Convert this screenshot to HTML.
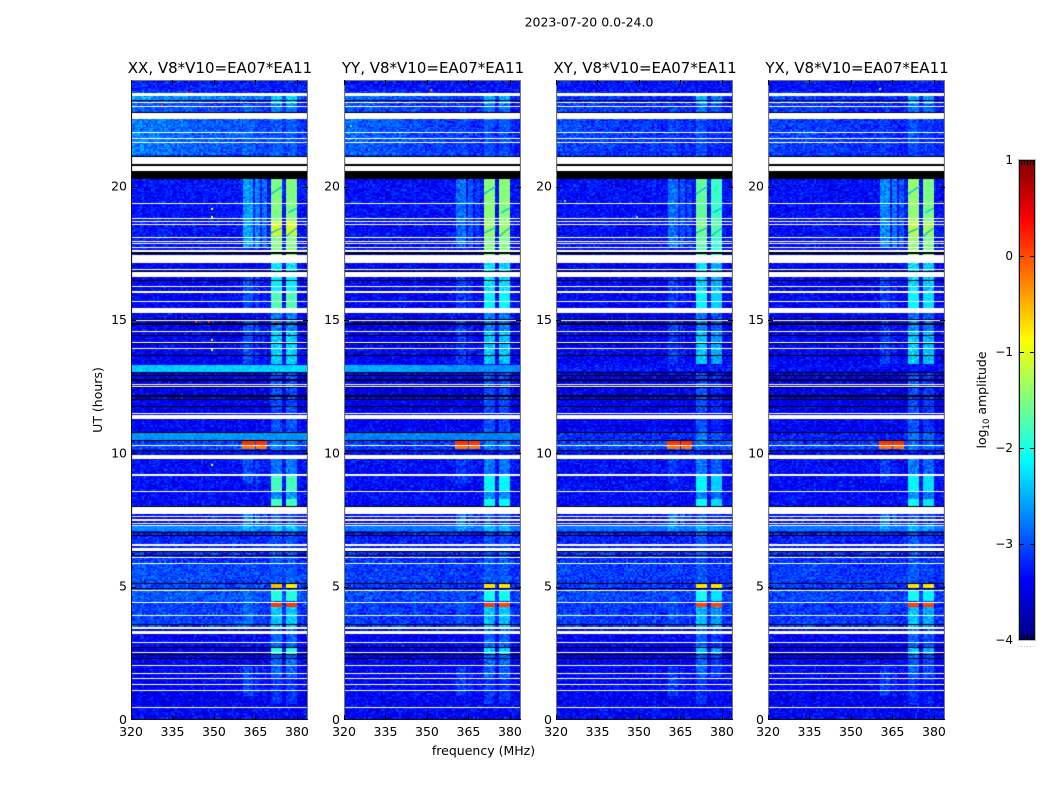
<!DOCTYPE html>
<html>
<head>
<meta charset="utf-8">
<title>2023-07-20 spectrogram</title>
<style>
html,body{margin:0;padding:0;background:#fff;}
#figure{position:relative;width:1050px;height:800px;overflow:hidden;background:#fff;}
canvas{position:absolute;display:block;}
svg{position:absolute;left:0;top:0;}
text{font-family:"DejaVu Sans","Liberation Sans",sans-serif;fill:#000;}
</style>
</head>
<body>
<div id="figure">
<canvas id="hm0" width="177" height="640" style="left:131px;top:80px"></canvas>
<canvas id="hm1" width="177" height="640" style="left:344px;top:80px"></canvas>
<canvas id="hm2" width="177" height="640" style="left:556px;top:80px"></canvas>
<canvas id="hm3" width="177" height="640" style="left:768px;top:80px"></canvas>
<canvas id="cbar" width="16" height="480" style="left:1019px;top:160px"></canvas>
<svg id="overlay" width="1050" height="800">
<text x="589" y="26.5" text-anchor="middle" font-size="12.5">2023-07-20 0.0-24.0</text>
<text x="220" y="73" text-anchor="middle" font-size="15">XX, V8*V10=EA07*EA11</text>
<text x="433" y="73" text-anchor="middle" font-size="15">YY, V8*V10=EA07*EA11</text>
<text x="645" y="73" text-anchor="middle" font-size="15">XY, V8*V10=EA07*EA11</text>
<text x="857" y="73" text-anchor="middle" font-size="15">YX, V8*V10=EA07*EA11</text>
<text x="483.5" y="755" text-anchor="middle" font-size="12.5">frequency (MHz)</text>
<text transform="translate(102,400) rotate(-90)" text-anchor="middle" font-size="12.5">UT (hours)</text>
<text transform="translate(986,400) rotate(-90)" text-anchor="middle" font-size="12.5">log<tspan font-size="8.5" dy="3">10</tspan><tspan dy="-3"> amplitude</tspan></text>
<text x="1017" y="647" font-size="7" letter-spacing="0.9" style="fill:#999">......</text>
</svg>
</div>
<script>
// ---- chart data (log10 amplitude; hours UT; MHz) ----
const panelNames = ['XX', 'YY', 'XY', 'YX'];
const xTickValues = [320, 335, 350, 365, 380];
const yTickValues = [0, 5, 10, 15, 20];
const colorbarTickValues = [1, 0, -1, -2, -3, -4];
const colorbarEdgeTicks = [0.12, 0.3, 0.5, 0.7, 0.88];

// Flagged (blank) time ranges [startHour, endHour]
const flaggedHours = [
[23.40,23.52],[23.13,23.175],[22.98,23.025],[22.54,22.77],[22.02,22.06],[21.78,21.81],[21.65,21.69],
[20.85,21.12],[20.60,20.79],[19.35,19.39],[18.79,18.83],[18.69,18.72],[18.56,18.60],[18.06,18.12],
[17.94,17.97],[17.84,17.88],[17.69,17.75],[17.56,17.63],[17.19,17.44],[17.13,17.16],[16.88,16.91],
[16.62,16.80],[16.23,16.28],[16.02,16.10],[15.68,15.71],[15.25,15.45],[14.95,15.00],[14.56,14.60],
[14.14,14.18],[13.90,13.95],[12.56,12.60],[12.49,12.53],[11.48,11.52],[11.29,11.43],[10.28,10.31],
[9.79,9.94],[9.16,9.23],[8.55,8.60],[7.73,7.98],[7.60,7.65],[7.47,7.53],[7.35,7.40],[7.28,7.32],
[6.53,6.59],[6.34,6.44],[6.09,6.12],[5.84,5.88],[4.84,4.88],[4.39,4.43],[3.90,3.94],[3.40,3.50],
[3.23,3.33],[2.89,2.93],[2.50,2.56],[2.03,2.06],[1.71,1.75],[1.54,1.58],[1.30,1.34],[1.09,1.13],[0.44,0.48]
];

// Zero-amplitude (black) time ranges [startHour, endHour]
const zeroHours = [
[23.21,23.25],[22.77,22.81],[21.12,21.15],[20.79,20.85],[20.29,20.60],[17.46,17.55],[16.80,16.85],
[16.46,16.50],[15.00,15.04],[14.82,14.88],[14.40,14.44],[14.10,14.13],[13.65,13.69],[13.01,13.05],
[12.90,12.94],[12.72,12.78],[12.44,12.48],[12.12,12.18],[12.00,12.05],[11.73,11.78],[10.77,10.81],
[10.46,10.50],[10.08,10.13],[7.98,8.03],[7.04,7.06],[6.90,6.94],[6.30,6.34],[6.15,6.19],[5.09,5.13],
[4.92,4.96],[3.55,3.59],[2.71,2.75],[2.44,2.48],[2.28,2.31]
];

// Background level per time range: [start, end, XX, YY, XY, YX]
const backgroundLevels = [
[0,0.5,-3.4,-3.4,-3.4,-3.4],[0.5,1.1,-3.45,-3.42,-3.42,-3.42],[1.1,2.3,-3.42,-3.42,-3.42,-3.42],
[2.3,2.7,-3.5,-3.5,-3.5,-3.5],[2.7,3.5,-3.42,-3.42,-3.42,-3.42],[3.5,4.4,-3.1,-3.15,-3.15,-3.15],
[4.4,4.9,-3.0,-3.08,-3.08,-3.08],[4.9,5.9,-3.05,-3.12,-3.12,-3.12],[5.9,6.3,-3.18,-3.18,-3.18,-3.18],
[6.3,7.1,-3.2,-3.25,-3.25,-3.25],[7.1,7.3,-2.7,-2.8,-2.8,-2.8],[7.3,8,-3.38,-3.38,-3.38,-3.38],
[8,10.1,-3.36,-3.36,-3.36,-3.36],[10.1,10.5,-3.05,-3.15,-3.05,-3.1],[10.5,10.8,-2.65,-2.75,-3.2,-3.25],
[10.8,11.3,-3.42,-3.42,-3.42,-3.42],[11.3,13.0,-3.45,-3.45,-3.45,-3.45],[13.0,13.32,-2.35,-2.65,-3.3,-3.35],
[13.32,17.5,-3.42,-3.42,-3.42,-3.42],[17.5,20.3,-3.32,-3.35,-3.35,-3.35],[20.3,21.2,-3.25,-3.25,-3.25,-3.25],
[21.2,22.55,-3.0,-3.12,-3.18,-3.18],[22.55,23.25,-3.15,-3.22,-3.22,-3.22],[23.25,23.4,-2.85,-3.05,-3.15,-3.15],
[23.4,23.5,-3.15,-3.22,-3.22,-3.22],[23.5,24,-3.25,-3.32,-3.32,-3.32]
];

// Left-to-right tilt of background per time range: [start, end, XX, YY, XY, YX]
const backgroundTilt = [
[21.2,23.6,0.4,0.4,0.22,0.22],[3.5,6.3,0.1,0.08,0.08,0.08],[13.0,13.32,-0.1,0.2,0,0]
];

// Channel windows [startMHz, endMHz]
const mainChannels = [[370.5, 375.0], [375.7, 380.1]];
const sideChannels = [[361.0, 364.2], [364.6, 367.0], [367.5, 369.6]];
// Per-panel level shift of the second main channel window
const secondWindowShift = [0, 0, -0.2, -0.12];
// Level shift of each secondary channel window
const sideWindowShift = [0, -0.12, -0.25];

// Main RFI block levels: [start, end, XX, YY, XY, YX]
const mainBandLevels = [
[0.6,1.6,-3.15,-3.15,-3.15,-3.15],[1.6,2.45,-2.9,-2.9,-2.9,-2.9],
[2.45,2.7,-1.95,-2.3,-2.45,-2.45],[2.7,3.5,-2.9,-2.9,-2.9,-2.9],[3.5,4.25,-2.4,-2.45,-2.45,-2.45],
[4.45,4.85,-1.95,-2.05,-2.05,-2.05],[5.15,6.3,-2.95,-2.95,-2.95,-2.95],[6.3,7.05,-3.0,-3.0,-3.0,-3.0],
[7.1,7.3,-2.35,-2.45,-2.45,-2.45],[7.3,8,-3.0,-3.0,-3.0,-3.0],[8,8.3,-1.8,-2.1,-2.1,-2.1],
[8.3,8.6,-2.65,-2.7,-2.7,-2.7],[8.6,9.15,-1.8,-2.15,-2.15,-2.15],[9.15,9.8,-2.8,-2.8,-2.8,-2.8],
[10.1,10.8,-2.75,-2.8,-2.8,-2.8],[10.8,11.3,-3.0,-3.0,-3.0,-3.0],[11.5,13.0,-3.0,-3.0,-3.0,-3.0],
[13.35,14.6,-2.35,-2.4,-2.4,-2.35],[14.6,15.0,-2.75,-2.75,-2.75,-2.75],[15.0,15.25,-2.8,-2.8,-2.8,-2.8],
[15.45,16.0,-1.75,-2.15,-2.15,-2.15],[16.0,16.6,-2.2,-2.3,-2.3,-2.3],[16.8,17.15,-2.25,-2.3,-2.3,-2.3],
[17.44,18.2,-1.5,-1.5,-1.7,-1.4],[18.2,18.7,-1.05,-1.35,-1.5,-1.2],[18.7,20.29,-1.5,-1.45,-1.65,-1.4],
[21.15,22.5,-2.95,-3.0,-3.0,-3.0],[22.5,23.1,-2.75,-2.85,-2.85,-2.85],[23.1,23.5,-2.35,-2.5,-2.5,-2.5]
];

// Secondary (fainter) block levels: [start, end, XX, YY, XY, YX]
const sideBandLevels = [
[0.9,2.0,-3.0,-3.1,-3.1,-3.1],[3.5,4.9,-2.85,-3.0,-3.0,-3.0],[7.1,7.3,-2.45,-2.6,-2.6,-2.6],
[7.3,7.98,-2.7,-2.85,-2.85,-2.85],[8.9,9.8,-3.0,-3.1,-3.1,-3.1],[13.35,15.0,-3.0,-3.1,-3.1,-3.1],
[15.45,16.8,-3.0,-3.1,-3.1,-3.1],[17.7,20.29,-2.6,-2.85,-2.85,-2.7],[21.2,23.1,-2.9,-3.05,-3.1,-3.1]
];

// Narrow events: [start, end, startMHz, endMHz, XX, YY, XY, YX]
const eventLevels = [
[10.13,10.30,360.2,364.5,-0.2,-0.2,-0.2,-0.2],[10.30,10.46,360.2,364.5,0.12,0.12,0.12,0.12],
[10.13,10.30,365.2,369.6,-0.2,-0.2,-0.2,-0.2],[10.30,10.46,365.2,369.6,0.12,0.12,0.12,0.12],
[4.96,5.09,370.5,375.0,-0.55,-0.75,-0.75,-0.75],[4.96,5.09,375.7,380.1,-0.8,-0.75,-0.75,-0.75],
[4.26,4.39,370.5,375.0,0.12,0.1,0.05,0.1],[4.26,4.39,375.7,380.1,0.12,0.05,0.05,0.05]
];

// Isolated bright pixels: [hour, MHz, panelIndex, level]
const hotPixels = [
[23.6,341,0,0.4],[23.1,331,0,0.2],[23.0,349,0,0.1],[19.2,349,0,-0.9],[18.9,349,0,-0.9],[16.7,326,0,-0.6],
[14.95,343,0,0.1],[14.95,348,0,0.2],[14.95,372,0,0.2],[14.3,349,0,-0.7],[13.9,349,0,-0.8],[9.6,349,0,-0.9],
[23.65,351,1,-0.3],[22.3,322,1,-1.8],[19.5,323,2,-1.7],[16.8,323,2,-1.3],[18.9,349,2,-1.7],[23.7,360,3,-1.5]
];

// Dimmed arcs inside the bright blocks, one list of [hour, MHz] per arc
const arcTraces = [
[[19.72,370.6],[19.82,372.0],[19.92,373.4],[20.0,374.9]],
[[18.26,370.6],[18.33,372.0],[18.4,373.4],[18.46,374.9]],
[[19.02,376.8],[19.1,378.2],[19.2,380.0]],
[[18.1,375.9],[18.25,377.4],[18.45,380.0]]
];

// Hand-tabulated speckle offsets used to texture the cells
const speckleA = [0.18,-0.24,0.05,0.27,-0.12,-0.3,0.11,0.02,-0.19,0.3,-0.07,0.15,-0.26,0.09,0.22,-0.15,-0.03,0.25,-0.21,0.07,
-0.28,0.13,0.01,-0.1,0.2,-0.17,0.28,-0.05,0.12,-0.23,0.04,0.17,-0.29,0.24,-0.08,-0.14,0.1,0.29,-0.2,0.03,-0.25,0.16,0.06,-0.11,0.21,-0.02,-0.18,0.26,-0.27,0.08,0.14,-0.06,0.23,-0.16,-0.22,0.19,0,-0.13,0.3,-0.09,0.12];
const speckleB = [-0.08,0.12,0.03,-0.15,0.17,-0.02,0.09,-0.18,0.14,0.01,-0.11,0.2,-0.05,-0.13,0.07,0.16,-0.2,0.04,-0.09,0.11,0.18,-0.16,0.02,-0.07,0.13,-0.19,0.06,0.15,-0.12,-0.03,0.19,-0.1,0.08,-0.17,0.05,0.1,-0.14,0.16,-0.04,-0.06,0.12];

// ---- layout and scales ----
const panelLefts = [131, 344, 556, 768];
const plotWidth = 177, plotTop = 80, plotBottom = 720;
const freqMin = 320, freqMax = 384, hourMin = 0, hourMax = 24;
const channelCount = 96, rowCount = 480;
const cbarTop = 160, cbarBottom = 640, cbarLeft = 1019, cbarRight = 1035, levelMin = -4, levelMax = 1;

function xScale(f) { return (f - freqMin) / (freqMax - freqMin) * plotWidth; }
function yScale(h) { return plotBottom - plotTop - (h - hourMin) / (hourMax - hourMin) * (plotBottom - plotTop); }
function levelScale(v) { return cbarBottom - (v - levelMin) / (levelMax - levelMin) * (cbarBottom - cbarTop); }

function jetChannel(t, a) {
  const d = Math.abs(t - a);
  return Math.max(0, Math.min(1, 1.5 - 4 * d));
}
function jet(v) {
  const t = Math.max(0, Math.min(1, (v - levelMin) / (levelMax - levelMin)));
  const r = Math.round(255 * jetChannel(t, 0.75));
  const g = Math.round(255 * jetChannel(t, 0.5));
  const b = Math.round(255 * jetChannel(t, 0.25));
  return 'rgb(' + r + ',' + g + ',' + b + ')';
}
function lookupRange(table, h, p) {
  for (let k = 0; k < table.length; k++) {
    if (h >= table[k][0] && h < table[k][1]) return table[k][2 + p];
  }
  return null;
}
function inWindow(win, f) { return f >= win[0] && f < win[1]; }

function cellValue(p, h, f, i, j) {
  const n1 = speckleA[(i * i * 3 + j * j * 5 + i * j + j * 17 + p * 7) % speckleA.length];
  const n2 = speckleB[(i * 11 + j * j * 3 + i * j * 2 + p * 3) % speckleB.length];
  let base = lookupRange(backgroundLevels, h, p);
  if (base === null) base = -3.4;
  const tilt = lookupRange(backgroundTilt, h, p) || 0;
  const amp = base > -2.85 ? 0.45 : 1;
  let v = base + tilt * (1 - (f - freqMin) / (freqMax - freqMin) * 1.6) * 0.6 + (n1 * 0.9 + n2 * 0.6) * amp;
  const side = lookupRange(sideBandLevels, h, p);
  if (side !== null) {
    for (let w = 0; w < sideChannels.length; w++) {
      if (inWindow(sideChannels[w], f)) v = Math.max(v, side + sideWindowShift[w] + n1 * 0.8 + n2 * 0.4);
    }
  }
  const main = lookupRange(mainBandLevels, h, p);
  if (main !== null) {
    const ns = main < -2.2 ? 0.65 : 0.18;
    if (inWindow(mainChannels[0], f)) v = Math.max(v, main + (n1 + n2) * ns);
    if (inWindow(mainChannels[1], f)) v = Math.max(v, main + secondWindowShift[p] + (n1 + n2) * ns);
  }
  for (let k = 0; k < eventLevels.length; k++) {
    const e = eventLevels[k];
    if (h >= e[0] && h < e[1] && f >= e[2] && f < e[3]) v = e[4 + p] + n2 * 0.2;
  }
  return v;
}

function drawPanel(p) {
  const ctx = document.getElementById('hm' + p).getContext('2d');
  const dH = (hourMax - hourMin) / rowCount, dF = (freqMax - freqMin) / channelCount;
  for (let j = 0; j < rowCount; j++) {
    const h = hourMin + (j + 0.5) * dH;
    const y1 = Math.round(yScale(hourMin + (j + 1) * dH)), y2 = Math.round(yScale(hourMin + j * dH));
    for (let i = 0; i < channelCount; i++) {
      const f = freqMin + (i + 0.5) * dF;
      const x1 = Math.round(xScale(freqMin + i * dF)), x2 = Math.round(xScale(freqMin + (i + 1) * dF));
      ctx.fillStyle = jet(cellValue(p, h, f, i, j));
      ctx.fillRect(x1, y1, x2 - x1, y2 - y1);
    }
  }
  ctx.strokeStyle = 'rgb(0,190,235)';
  ctx.lineWidth = 1.3;
  arcTraces.forEach(function (trace) {
    ctx.beginPath();
    trace.forEach(function (pt, n) {
      const px = xScale(pt[1]), py = yScale(pt[0]);
      if (n === 0) ctx.moveTo(px, py); else ctx.lineTo(px, py);
    });
    ctx.stroke();
  });
  hotPixels.forEach(function (q) {
    if (q[2] !== p) return;
    ctx.fillStyle = jet(q[3]);
    ctx.fillRect(Math.round(xScale(q[1])), Math.round(yScale(q[0])), 2, 2);
  });
  ctx.fillStyle = '#000';
  zeroHours.forEach(function (r) {
    const y1 = Math.round(yScale(r[1])), y2 = Math.round(yScale(r[0]));
    ctx.fillRect(0, y1, plotWidth, Math.max(1, y2 - y1));
  });
  ctx.fillStyle = '#fff';
  flaggedHours.forEach(function (r) {
    const y1 = Math.round(yScale(r[1])), y2 = Math.round(yScale(r[0]));
    ctx.fillRect(1, y1, plotWidth - 2, Math.max(1, y2 - y1));
  });
}
panelNames.forEach(function (name, p) { drawPanel(p); });

// colourbar gradient
(function () {
  const ctx = document.getElementById('cbar').getContext('2d');
  for (let y = 0; y < cbarBottom - cbarTop; y++) {
    const v = levelMax - (y + 0.5) / (cbarBottom - cbarTop) * (levelMax - levelMin);
    ctx.fillStyle = jet(v);
    ctx.fillRect(0, y, cbarRight - cbarLeft, 1);
  }
})();

// ---- axes ----
const svg = document.getElementById('overlay');
const NS = 'http://www.w3.org/2000/svg';
function line(x1, y1, x2, y2, stroke) {
  const el = document.createElementNS(NS, 'line');
  el.setAttribute('x1', x1);
  el.setAttribute('y1', y1);
  el.setAttribute('x2', x2);
  el.setAttribute('y2', y2);
  el.setAttribute('stroke', stroke || '#000');
  el.setAttribute('stroke-width', '1');
  
  
  svg.appendChild(el);
  return el;
}
function label(str, x, y, anchor, size) {
  const el = document.createElementNS(NS, 'text');
  el.setAttribute('x', x);
  el.setAttribute('y', y);
  el.setAttribute('text-anchor', anchor);
  el.setAttribute('font-size', size);
  el.textContent = str;
  
  
  svg.appendChild(el);
  return el;
}
function frame(x, y, w, h, stroke) {
  const el = document.createElementNS(NS, 'rect');
  el.setAttribute('x', x);
  el.setAttribute('y', y);
  el.setAttribute('width', w);
  el.setAttribute('height', h);
  el.setAttribute('fill', 'none');
  el.setAttribute('stroke', stroke);
  el.setAttribute('stroke-width', '1');
  
  
  svg.appendChild(el);
}
panelLefts.forEach(function (left) {
  frame(left + 0.5, plotTop + 0.5, plotWidth - 1, plotBottom - plotTop - 1, '#777');
  line(left, plotBottom - 0.5, left + plotWidth, plotBottom - 0.5, '#111');
  xTickValues.forEach(function (f) {
    const x = Math.round(left + xScale(f)) + 0.5;
    line(x, plotBottom, x, plotBottom - 5);
    line(x, plotTop, x, plotTop + 5);
    label(String(f), left + xScale(f), plotBottom + 16, 'middle', 12.5);
  });
  yTickValues.forEach(function (h) {
    const y = Math.round(plotTop + yScale(h)) - (h === 0 ? 1 : 0) + 0.5;
    line(left, y, left + 5, y);
    line(left + plotWidth, y, left + plotWidth - 5, y);
    label(String(h), left - 4, plotTop + yScale(h) + 4, 'end', 12.5);
  });
});
line(131.5, plotTop, 131.5, plotBottom, '#111');
frame(cbarLeft - 0.5, cbarTop - 0.5, cbarRight - cbarLeft + 1, cbarBottom - cbarTop + 1, '#bbb');
frame(cbarLeft + 0.5, cbarTop + 0.5, cbarRight - cbarLeft - 1, cbarBottom - cbarTop - 1, '#111');
colorbarTickValues.forEach(function (v) {
  const y = Math.round(levelScale(v)) + (v === levelMin ? -1 : 0) + 0.5;
  line(cbarLeft, y, cbarLeft + 5, y);
  line(cbarRight, y, cbarRight - 5, y);
  const txt = v < 0 ? '\u2212' + Math.abs(v) : String(v);
  label(txt, cbarLeft - 6, levelScale(v) + 4, 'end', 12);
});
colorbarEdgeTicks.forEach(function (frac) {
  const x = Math.round(cbarLeft + frac * (cbarRight - cbarLeft)) + 0.5;
  line(x, cbarTop, x, cbarTop + 5);
  line(x, cbarBottom, x, cbarBottom - 5);
});
</script>
</body>
</html>
